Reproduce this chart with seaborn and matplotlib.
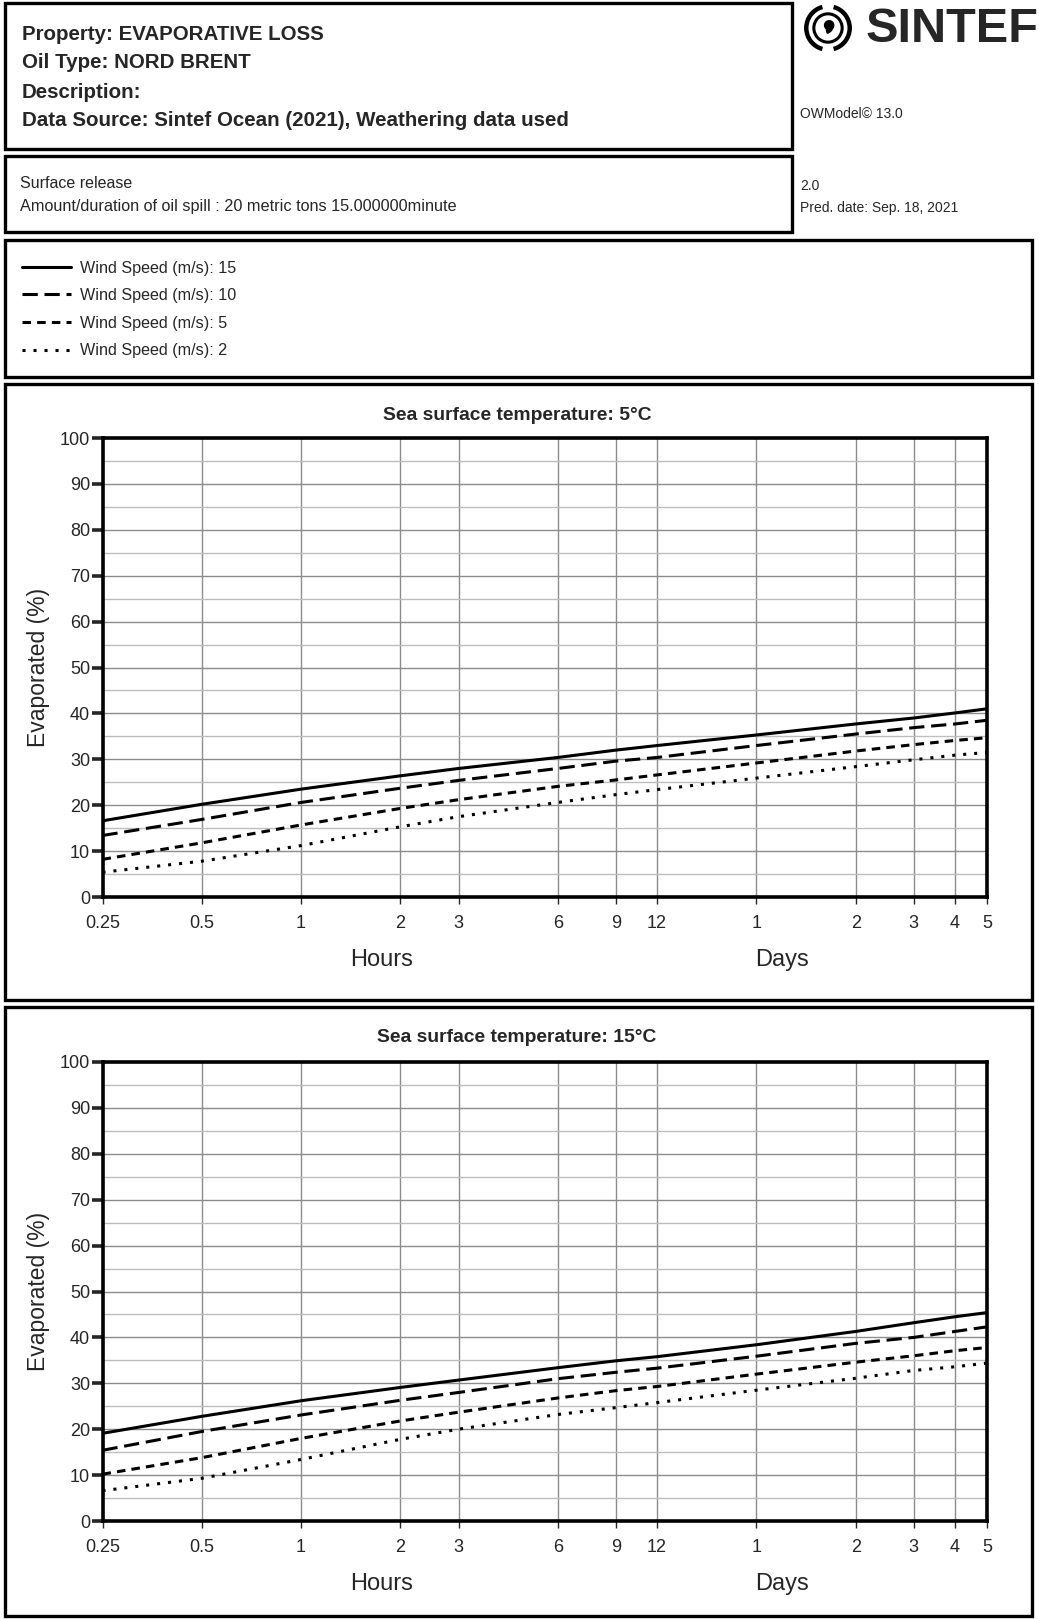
import matplotlib
matplotlib.use('Agg')
import matplotlib.pyplot as plt
import matplotlib.patches as mpatches
from matplotlib.lines import Line2D
from matplotlib.ticker import FixedLocator, FixedFormatter, MultipleLocator, NullLocator
import seaborn as sns
import pandas as pd

# time axis (hours) and tick labels
hours = [0.25, 0.5, 1, 2, 3, 6, 9, 12, 24, 48, 72, 96, 120]
tick_labels = ['0.25', '0.5', '1', '2', '3', '6', '9', '12', '1', '2', '3', '4', '5']
wind_speeds = [15, 10, 5, 2]
temperatures = [5, 15]

# evaporated (%) at 5 C sea temperature
evap_5c_w15 = [16.6, 20.2, 23.5, 26.4, 28.0, 30.4, 32.0, 33.0, 35.3, 37.7, 39.0, 40.1, 41.0]
evap_5c_w10 = [13.4, 16.9, 20.6, 23.7, 25.4, 28.0, 29.6, 30.4, 33.0, 35.5, 36.9, 37.7, 38.5]
evap_5c_w5 = [8.2, 11.8, 15.7, 19.3, 21.2, 24.1, 25.5, 26.6, 29.2, 31.8, 33.2, 34.1, 34.7]
evap_5c_w2 = [5.4, 7.8, 11.2, 15.3, 17.5, 20.6, 22.3, 23.4, 25.9, 28.4, 29.9, 30.9, 31.5]

# evaporated (%) at 15 C sea temperature
evap_15c_w15 = [19.1, 22.8, 26.2, 29.1, 30.7, 33.4, 34.9, 35.8, 38.4, 41.3, 43.2, 44.5, 45.4]
evap_15c_w10 = [15.4, 19.5, 23.1, 26.3, 28.0, 31.0, 32.4, 33.3, 35.9, 38.7, 40.0, 41.3, 42.3]
evap_15c_w5 = [10.2, 13.8, 18.0, 21.8, 23.7, 26.8, 28.4, 29.3, 32.0, 34.6, 36.0, 37.1, 37.8]
evap_15c_w2 = [6.6, 9.3, 13.4, 17.8, 20.0, 23.2, 24.7, 25.8, 28.5, 31.1, 32.8, 33.6, 34.4]

series = {
    5: [evap_5c_w15, evap_5c_w10, evap_5c_w5, evap_5c_w2],
    15: [evap_15c_w15, evap_15c_w10, evap_15c_w5, evap_15c_w2],
}
rows = []
for temp in temperatures:
    for ws, vals in zip(wind_speeds, series[temp]):
        for h, v in zip(hours, vals):
            rows.append({'temp': temp, 'wind': ws, 'hours': h, 'evap': v})
df = pd.DataFrame(rows)

sns.set_style('white')
plt.rcParams['font.family'] = ['Liberation Sans', 'DejaVu Sans']

W, H = 1039, 1619
fig = plt.figure(figsize=(W / 100, H / 100), dpi=100)

def fx(px):
    return px / W

def fy(py):
    return 1 - py / H

def box(x0, y0, x1, y1):
    fig.patches.append(mpatches.Rectangle((fx(x0), fy(y1)), fx(x1) - fx(x0), fy(y0) - fy(y1),
                                          transform=fig.transFigure, fill=False,
                                          edgecolor='black', linewidth=2.4))

# frames
box(5, 3, 792, 149)
box(5, 156, 792, 232)
box(5, 240, 1032, 377)
box(5, 384, 1032, 1000)
box(5, 1007, 1032, 1616)

# header text
hdr = ['Property: EVAPORATIVE LOSS', 'Oil Type: NORD BRENT', 'Description:',
       'Data Source: Sintef Ocean (2021), Weathering data used']
for txt, yy in zip(hdr, [34, 62, 93, 121]):
    fig.text(fx(22), fy(yy), txt, fontsize=14.8, fontweight='bold', va='center', ha='left')
fig.text(fx(20), fy(184), 'Surface release', fontsize=11.5, va='center')
fig.text(fx(20), fy(206), 'Amount/duration of oil spill : 20 metric tons 15.000000minute', fontsize=11.7, va='center')
fig.text(fx(800), fy(114), 'OWModel\u00a9 13.0', fontsize=10, va='center')
fig.text(fx(800), fy(186), '2.0', fontsize=10, va='center')
fig.text(fx(800), fy(208), 'Pred. date: Sep. 18, 2021', fontsize=10, va='center')

# logo
lax = fig.add_axes([fx(804), fy(52), fx(48), 48 / H])
lax.set_xlim(-1.05, 1.05)
lax.set_ylim(-1.05, 1.05)
lax.set_aspect('equal')
lax.axis('off')
lax.add_patch(mpatches.Arc((0, 0), 1.9, 1.9, theta1=105, theta2=255, lw=3.2, color='black'))
lax.add_patch(mpatches.Arc((0, 0), 1.9, 1.9, theta1=285, theta2=75, lw=3.2, color='black'))
lax.add_patch(mpatches.Circle((0, 0), 0.62, fill=False, lw=2.2, color='black'))
lax.add_patch(mpatches.Circle((0.05, 0.12), 0.2, color='black'))
lax.add_patch(mpatches.Wedge((-0.12, 0.1), 0.34, 285, 355, width=0.14, color='black'))
fig.text(fx(866), fy(29), 'SINTEF', fontsize=35, fontweight='heavy', va='center', ha='left')

# legend
dash_map = {15: '', 10: (5, 2.2), 5: (2.8, 2), 2: (1, 2.6)}
handles = [Line2D([], [], color='black', lw=2.2, dashes=dash_map[w] if dash_map[w] else (None, None))
           for w in wind_speeds]
fig.legend(handles, [f'Wind Speed (m/s): {w}' for w in wind_speeds],
           loc='upper left', bbox_to_anchor=(fx(7), fy(246)), frameon=False,
           fontsize=11.6, handlelength=3.1, handletextpad=0.55, labelspacing=0.78)

# charts
axes_top = {5: 438, 15: 1062}
title_y = {5: 415, 15: 1037}
for temp in temperatures:
    top = axes_top[temp]
    ax = fig.add_axes([fx(102.5), fy(top + 459), fx(987) - fx(102.5), 459 / H])
    ax.set_xscale('log')
    sub = df[df['temp'] == temp]
    sns.lineplot(data=sub, x='hours', y='evap', style='wind', style_order=wind_speeds,
                 dashes=dash_map, color='black', linewidth=2.2, errorbar=None,
                 legend=False, ax=ax)
    ax.set_xlim(0.25, 120)
    ax.set_ylim(0, 100)
    ax.xaxis.set_major_locator(FixedLocator(hours))
    ax.xaxis.set_major_formatter(FixedFormatter(tick_labels))
    ax.xaxis.set_minor_locator(NullLocator())
    ax.yaxis.set_major_locator(MultipleLocator(10))
    ax.yaxis.set_minor_locator(MultipleLocator(5))
    ax.set_axisbelow(True)
    ax.grid(which='major', axis='both', color='#8c8c8c', linewidth=1)
    ax.grid(which='minor', axis='y', color='#bdbdbd', linewidth=1)
    for s in ax.spines.values():
        s.set_linewidth(2.6)
        s.set_color('black')
    ax.tick_params(axis='y', which='major', direction='out', length=8, width=2.6,
                   labelsize=13, pad=1, left=True)
    ax.tick_params(axis='y', which='minor', length=0)
    ax.tick_params(axis='x', which='major', direction='out', length=5, width=1,
                   labelsize=13, pad=8, bottom=True)
    ax.set_xlabel('')
    ax.set_ylabel('Evaporated (%)', fontsize=16.5, labelpad=7)
    ax.text(0.315, -0.138, 'Hours', transform=ax.transAxes, fontsize=17, ha='center', va='center')
    ax.text(0.768, -0.138, 'Days', transform=ax.transAxes, fontsize=17, ha='center', va='center')
    fig.text(fx(517), fy(title_y[temp]), f'Sea surface temperature: {temp}\u00b0C',
             fontsize=13.9, fontweight='bold', ha='center', va='center')

fig.savefig('out.png', dpi=100)
